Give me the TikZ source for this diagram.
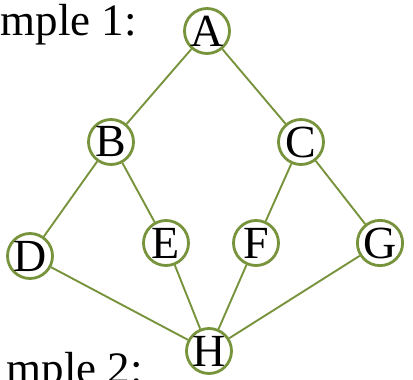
\documentclass[tikz,border=0pt]{standalone}
\usepackage{fontspec}
\setmainfont{Liberation Serif}
\usepackage{xcolor}
\usepackage{tikz}
\definecolor{olive}{RGB}{119,147,60}
\tikzset{
    vertex/.style={circle, draw=olive, line width=2.8pt, fill=white, minimum size=45pt, inner sep=0pt, text centered, font=\fontsize{46}{46}\selectfont},
    caption/.style={inner sep=0pt, font=\fontsize{45}{45}\selectfont},
    edge/.style={draw=olive, line width=1.9pt}
}
\begin{document}
\begin{tikzpicture}[x=1pt, y=-1pt]
    \useasboundingbox (0,0) rectangle (413,380);
    \clip (0,0) rectangle (413,380);

    \node (cap1) [caption, anchor=base east] at (137,35) {mple 1:};
    \node (cap2) [caption, anchor=base east] at (143,383) {mple 2:};

    \node (A) [vertex] at (207,31) {A};
    \node (B) [vertex] at (111,142) {B};
    \node (C) [vertex] at (301,142) {C};
    \node (D) [vertex] at (30,256) {D};
    \node (E) [vertex] at (166,243) {E};
    \node (F) [vertex] at (256,243) {F};
    \node (G) [vertex] at (380,243) {G};
    \node (H) [vertex] at (209,351) {H};

    \draw [edge] (A) -- (B);
    \draw [edge] (A) -- (C);
    \draw [edge] (B) -- (D);
    \draw [edge] (B) -- (E);
    \draw [edge] (C) -- (F);
    \draw [edge] (C) -- (G);
    \draw [edge] (D) -- (H);
    \draw [edge] (E) -- (H);
    \draw [edge] (F) -- (H);
    \draw [edge] (G) -- (H);
\end{tikzpicture}
\end{document}
